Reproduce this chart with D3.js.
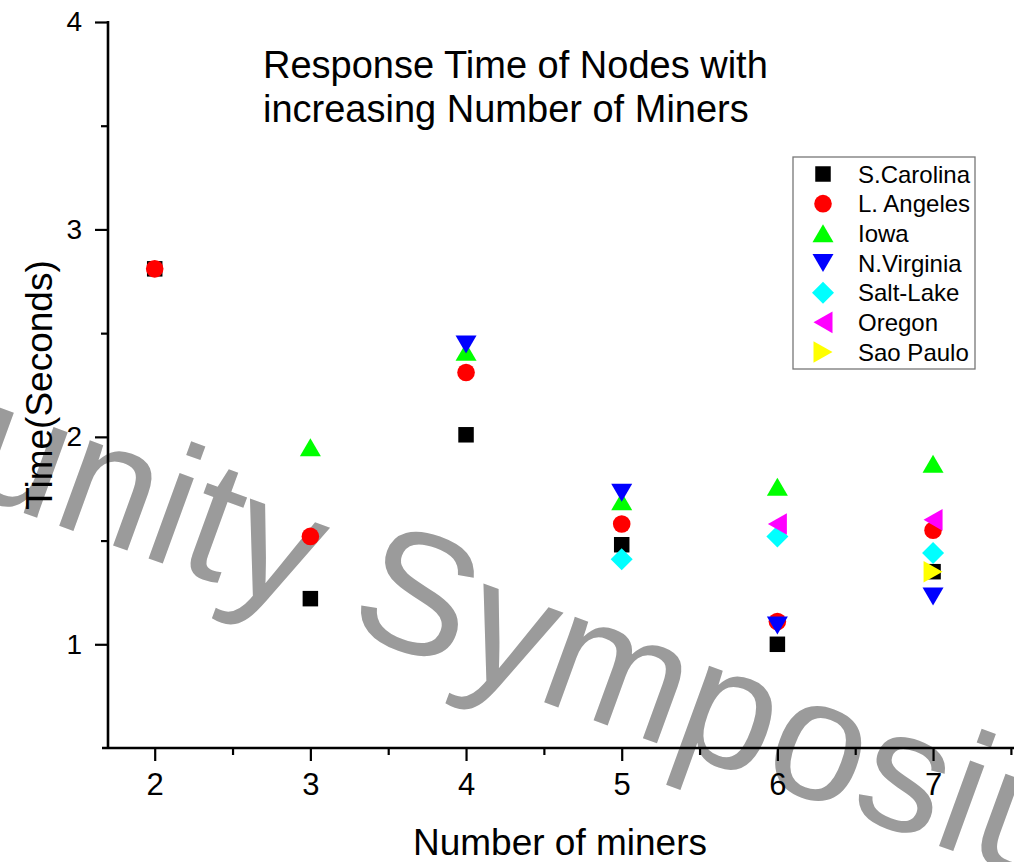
<!DOCTYPE html>
<html lang="en">
<head>
    <meta charset="UTF-8">
    <title>Response Time of Nodes</title>
    <script src="https://d3js.org/d3.v7.min.js"></script>
    <style>
        body { margin: 0; background: #fff; }
        svg { display: block; font-family: "Liberation Sans", Arial, sans-serif; }
    </style>
</head>
<body>
    <div id="chart-container"></div>
    <script>
        // values
        const miners = [2, 3, 4, 5, 6, 7];
        const sCarolina = [2.81, 1.22, 2.01, 1.48, 1.00, 1.35];
        const lAngeles = [2.81, 1.52, 2.31, 1.58, 1.11, 1.55];
        const iowa = [null, 1.95, 2.41, 1.69, 1.76, 1.87];
        const nVirginia = [null, null, 2.445, 1.73, 1.09, 1.23];
        const saltLake = [null, null, null, 1.41, 1.52, 1.44];
        const oregon = [null, null, null, null, 1.58, 1.60];
        const saoPaulo = [null, null, null, null, null, 1.35];

        const seriesNames = ["S.Carolina", "L. Angeles", "Iowa", "N.Virginia", "Salt-Lake", "Oregon", "Sao Paulo"];
        const seriesValues = [sCarolina, lAngeles, iowa, nVirginia, saltLake, oregon, saoPaulo];
        const seriesColors = ["#000000", "#ff0000", "#00ff00", "#0000ff", "#00ffff", "#ff00ff", "#ffff00"];
        const seriesShapes = ["square", "circle", "up", "down", "diamond", "left", "right"];

        const xTicks = [2, 3, 4, 5, 6, 7];
        const xMinor = [2.5, 3.5, 4.5, 5.5, 6.5, 7.5];
        const yTicks = [1, 2, 3, 4];
        const yMinor = [1.5, 2.5, 3.5];

        const width = 1014;
        const height = 862;

        const svg = d3.select("#chart-container")
            .append("svg")
            .attr("width", width)
            .attr("height", height);

        const xScale = d3.scaleLinear().domain([1.7, 7.52]).range([108, 1014]);
        const yScale = d3.scaleLinear().domain([0.5, 4]).range([748, 22]);

        // watermark sits behind everything
        svg.append("text")
            .attr("transform", "translate(-42,489) rotate(20)")
            .attr("font-size", 172)
            .attr("fill", "#9b9b9b")
            .text("unity Symposium");

        // shape paths, centred on 0,0
        function shapePath(type) {
            if (type == "square") return "M-7.75,-7.75H7.75V7.75H-7.75Z";
            if (type == "circle") return "M-8.8,0A8.8,8.8 0 1,0 8.8,0A8.8,8.8 0 1,0 -8.8,0Z";
            if (type == "up") return "M-10.5,9L10.5,9L0,-9Z";
            if (type == "down") return "M-10.5,-9L10.5,-9L0,9Z";
            if (type == "left") return "M9.5,-10.8L9.5,10.8L-9.5,0Z";
            if (type == "right") return "M-9.5,-10.8L-9.5,10.8L9.5,0Z";
            return "M0,-11L11,0L0,11L-11,0Z"; // diamond
        }

        // x axis
        const xAxis = svg.append("g")
            .attr("transform", "translate(0,748)")
            .call(d3.axisBottom(xScale).tickValues(xTicks).tickSize(13).tickPadding(12).tickFormat(d3.format("d")));
        xAxis.select(".domain").remove();
        xAxis.selectAll("line").attr("stroke-width", 2.2);
        xAxis.selectAll("text").attr("font-size", 31).attr("font-family", "Liberation Sans, Arial, sans-serif");

        const xAxisMinor = svg.append("g")
            .attr("transform", "translate(0,748)")
            .call(d3.axisBottom(xScale).tickValues(xMinor).tickSize(7).tickFormat(""));
        xAxisMinor.select(".domain").remove();
        xAxisMinor.selectAll("line").attr("stroke-width", 2.2);

        // y axis
        const yAxis = svg.append("g")
            .attr("transform", "translate(108,0)")
            .call(d3.axisLeft(yScale).tickValues(yTicks).tickSize(13).tickPadding(13).tickFormat(d3.format("d")));
        yAxis.select(".domain").remove();
        yAxis.selectAll("line").attr("stroke-width", 2.2);
        yAxis.selectAll("text").attr("font-size", 28).attr("font-family", "Liberation Sans, Arial, sans-serif");

        const yAxisMinor = svg.append("g")
            .attr("transform", "translate(108,0)")
            .call(d3.axisLeft(yScale).tickValues(yMinor).tickSize(7).tickFormat(""));
        yAxisMinor.select(".domain").remove();
        yAxisMinor.selectAll("line").attr("stroke-width", 2.2);

        // axis lines
        svg.append("line")
            .attr("x1", xScale(1.7) - 6).attr("x2", xScale(7.52))
            .attr("y1", yScale(0.5)).attr("y2", yScale(0.5))
            .attr("stroke", "black").attr("stroke-width", 2.6);
        svg.append("line")
            .attr("x1", xScale(1.7)).attr("x2", xScale(1.7))
            .attr("y1", yScale(4) - 1).attr("y2", yScale(0.5))
            .attr("stroke", "black").attr("stroke-width", 2.6);

        // axis titles
        svg.append("text")
            .attr("x", 560)
            .attr("y", 855)
            .attr("text-anchor", "middle")
            .attr("font-size", 37)
            .text("Number of miners");

        svg.append("text")
            .attr("transform", "translate(52,385) rotate(-90)")
            .attr("text-anchor", "middle")
            .attr("font-size", 37)
            .text("Time(Seconds)");

        // chart title
        const title = svg.append("text")
            .attr("font-size", 38)
            .attr("fill", "#000");
        title.append("tspan").attr("x", 263).attr("y", 78).text("Response Time of Nodes with");
        title.append("tspan").attr("x", 263).attr("y", 122).text("increasing Number of Miners");

        // points, one group per series so later series sit on top
        seriesValues.forEach(function(vals, i) {
            const pts = miners.map((m, j) => ({ x: m, y: vals[j] })).filter(d => d.y != null);
            svg.append("g")
                .selectAll("path")
                .data(pts)
                .enter()
                .append("path")
                .attr("transform", d => `translate(${xScale(d.x)},${yScale(d.y)})`)
                .attr("d", shapePath(seriesShapes[i]))
                .attr("fill", seriesColors[i]);
        });

        // legend
        const legend = svg.append("g").attr("transform", "translate(793,157)");
        legend.append("rect")
            .attr("width", 182)
            .attr("height", 212)
            .attr("fill", "white")
            .attr("stroke", "#777")
            .attr("stroke-width", 1.3);

        const rowY = d3.scaleLinear().domain([0, 6]).range([17, 195]);
        seriesNames.forEach(function(name, i) {
            legend.append("path")
                .attr("transform", `translate(30,${rowY(i)})`)
                .attr("d", shapePath(seriesShapes[i]))
                .attr("fill", seriesColors[i]);
            legend.append("text")
                .attr("x", 65)
                .attr("y", rowY(i) + 8.5)
                .attr("font-size", 24)
                .text(name);
        });
    </script>
</body>
</html>
